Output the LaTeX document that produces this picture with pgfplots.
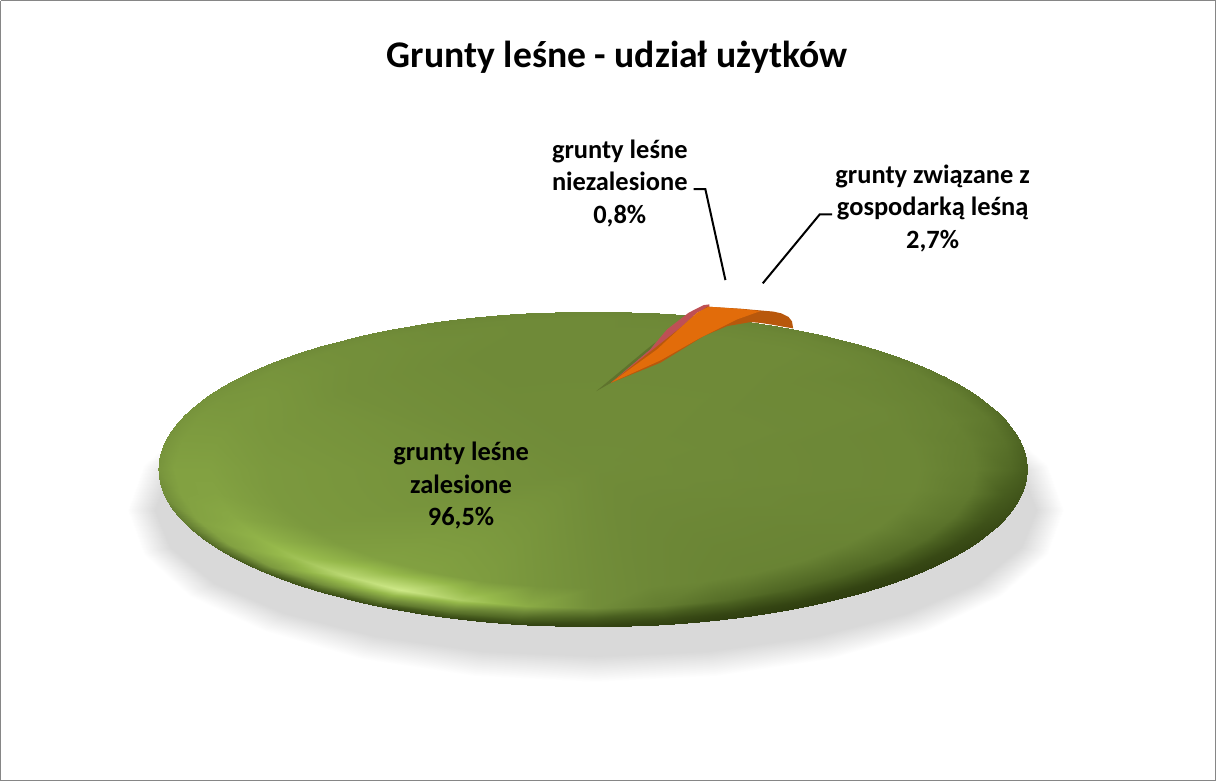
\documentclass[border=0pt]{standalone}
\usepackage{pgfplots}
\pgfplotsset{compat=1.18}
\usepackage{fontspec}
\setmainfont{Carlito}
\definecolor{frame}{RGB}{134,134,134}
\definecolor{orangeA}{RGB}{226,108,10}
\definecolor{orangeB}{RGB}{184,88,12}
\definecolor{rose}{RGB}{190,80,85}
\definecolor{darkgr}{RGB}{95,115,45}
\tikzset{lbl/.style={align=center,text=black,font=\fontsize{26.4}{32.5}\selectfont\bfseries}}
\pgfplotsset{
 colormap={piemap}{rgb255=(46,61,15) rgb255=(74,96,32) rgb255=(111,138,56) rgb255=(150,185,75) rgb255=(205,232,135)},
 colormap={shadowmap}{rgb255=(217,217,217) rgb255=(255,255,255)}
}
\begin{document}
\begin{tikzpicture}
\begin{axis}[
  width=1216pt,height=782pt,scale only axis,hide axis,
  xmin=0,xmax=1216,ymin=0,ymax=782,y dir=reverse,
  point meta min=0,point meta max=1
]
% frame
\addplot[frame,line width=1pt,forget plot] coordinates {(1,1.5) (1214.5,1.5) (1214.5,780.5) (1,780.5) (1,1.5)};
% shadow
\addplot[surf,shader=interp,colormap name=shadowmap,mesh/cols=3,mesh/rows=17,point meta=\thisrow{m},forget plot] table {
x y m
1000.3 424 1
976 437 0
595 470 0
1047 465.5 1
1020 472.2 0
595 470 0
1063 510 1
1035 510 0
595 470 0
1047 554.5 1
1020 547.8 0
595 470 0
1000.3 596 1
976 583 0
595 470 0
925.9 631.6 1
906.1 613.2 0
595 470 0
829 659 1
815 636.4 0
595 470 0
716.1 676.1 1
708.9 651 0
595 470 0
595 682 1
595 656 0
595 470 0
473.9 676.1 1
481.1 651 0
595 470 0
361 659 1
375 636.4 0
595 470 0
264.1 631.6 1
283.9 613.2 0
595 470 0
189.7 596 1
214 583 0
595 470 0
143 554.5 1
170 547.8 0
595 470 0
127 510 1
155 510 0
595 470 0
143 465.5 1
170 472.2 0
595 470 0
189.7 424 1
214 437 0
595 470 0
};
% pie top: rim r=1, .96, .88, .75, centre, every 10 degrees
\addplot[surf,shader=interp,colormap name=piemap,mesh/cols=5,mesh/rows=37,point meta=\thisrow{m},forget plot,
  execute at begin plot visualization={\pgfscope\clip (axis cs:592.5,469.5) ellipse [x radius=434,y radius=157.5];},
  execute at end plot visualization={\endpgfscope}] table {
x y m
1028 469.5 .22
1010.6 469.5 .30
975.7 469.5 .42
919.1 469.5 .48
592.5 469.5 .51
1021.4 496.9 .15
1004.2 495.8 .22
969.9 493.6 .40
914.1 490.1 .48
592.5 469.5 .51
1001.7 523.5 .10
985.4 521.4 .15
952.6 517 .37
899.4 510 .47
592.5 469.5 .51
969.7 548.5 .05
954.6 545.4 .10
924.4 539 .33
875.3 528.8 .47
592.5 469.5 .51
926.1 571.1 .02
912.8 567 .07
886 558.9 .30
842.7 545.7 .46
592.5 469.5 .51
872.4 590.5 0
861.3 585.7 .05
838.8 576 .28
802.4 560.3 .46
592.5 469.5 .51
810.3 606.3 0
801.6 600.9 .05
784.1 589.9 .28
755.8 572.1 .46
592.5 469.5 .51
741.4 618 0
735.5 612.1 .06
723.6 600.1 .33
704.2 580.9 .47
592.5 469.5 .51
668.1 625.1 .02
665.1 618.9 .10
659 606.4 .42
649.2 586.2 .49
592.5 469.5 .51
592.5 627.5 .03
592.5 621.2 .15
592.5 608.5 .52
592.5 588 .52
592.5 469.5 .51
516.9 625.1 .04
519.9 618.9 .25
526 606.4 .68
535.8 586.2 .56
592.5 469.5 .51
443.6 618 .05
449.5 612.1 .35
461.4 600.1 .85
480.8 580.9 .60
592.5 469.5 .51
374.7 606.3 .08
383.4 600.9 .45
400.9 589.9 1
429.2 572.1 .62
592.5 469.5 .51
312.6 590.5 .12
323.7 585.7 .52
346.2 576 .92
382.6 560.3 .62
592.5 469.5 .51
258.9 571.1 .18
272.2 567 .58
299 558.9 .80
342.3 545.7 .60
592.5 469.5 .51
215.3 548.5 .28
230.4 545.4 .62
260.6 539 .72
309.7 528.8 .58
592.5 469.5 .51
183.3 523.5 .40
199.6 521.4 .63
232.4 517 .66
285.6 510 .58
592.5 469.5 .51
163.6 496.9 .50
180.8 495.8 .62
215.1 493.6 .63
270.9 490.1 .58
592.5 469.5 .51
157 469.5 .55
174.4 469.5 .62
209.3 469.5 .62
265.9 469.5 .58
592.5 469.5 .51
163.6 442.1 .55
180.8 443.2 .60
215.1 445.4 .60
270.9 448.9 .57
592.5 469.5 .51
183.3 415.5 .55
199.6 417.6 .58
232.4 422 .58
285.6 429 .56
592.5 469.5 .51
215.3 390.5 .54
230.4 393.6 .56
260.6 400 .57
309.7 410.2 .55
592.5 469.5 .51
258.9 367.9 .52
272.2 372 .55
299 380.1 .55
342.3 393.3 .53
592.5 469.5 .51
312.6 348.5 .50
323.7 353.3 .53
346.2 363 .53
382.6 378.7 .52
592.5 469.5 .51
374.7 332.7 .50
383.4 338.1 .52
400.9 349.1 .52
429.2 366.9 .51
592.5 469.5 .51
443.6 321 .48
449.5 326.9 .50
461.4 338.9 .51
480.8 358.1 .50
592.5 469.5 .51
516.9 313.9 .48
519.9 320.1 .50
526 332.6 .50
535.8 352.8 .50
592.5 469.5 .51
592.5 311.5 .48
592.5 317.8 .50
592.5 330.5 .50
592.5 351 .50
592.5 469.5 .51
668.1 313.9 .47
665.1 320.1 .49
659 332.6 .50
649.2 352.8 .50
592.5 469.5 .51
741.4 321 .46
735.5 326.9 .48
723.6 338.9 .50
704.2 358.1 .50
592.5 469.5 .51
810.3 332.7 .45
801.6 338.1 .48
784.1 349.1 .50
755.8 366.9 .50
592.5 469.5 .51
872.4 348.5 .43
861.3 353.3 .47
838.8 363 .49
802.4 378.7 .49
592.5 469.5 .51
926.1 367.9 .40
912.8 372 .45
886 380.1 .47
842.7 393.3 .49
592.5 469.5 .51
969.7 390.5 .36
954.6 393.6 .43
924.4 400 .46
875.3 410.2 .49
592.5 469.5 .51
1001.7 415.5 .32
985.4 417.6 .40
952.6 422 .45
899.4 429 .48
592.5 469.5 .51
1021.4 442.1 .27
1004.2 443.2 .35
969.9 445.4 .43
914.1 448.9 .48
592.5 469.5 .51
1028 469.5 .22
1010.6 469.5 .30
975.7 469.5 .42
919.1 469.5 .48
592.5 469.5 .51
};
% wedges
\addplot[fill=darkgr,draw=none,forget plot] coordinates {(596,391.7) (610.7,383.3) (650,350) (655,343) (645,351) (615,376) (596,391.7)};
\addplot[fill=rose,draw=none,forget plot] coordinates {(610.7,383.3) (650,350) (666.7,330) (688.3,313.3) (703.3,305.7) (709,305) (709,308) (696.7,313.3) (678.3,330) (656.7,350) (610.7,383.3)};
\addplot[fill=orangeB,draw=none,forget plot] coordinates {(706.7,307.3) (740,309.3) (773,312.2) (781,314) (788,317.5) (791.5,322) (792.7,329) (781,327) (773,325.5) (760,323.5) (750,322.7) (726.7,326.7) (703.3,336.7) (660,363.3) (610.7,383.3) (706.7,307.3)};
\addplot[fill=orangeA,draw=none,forget plot] coordinates {(610.7,383.3) (656.7,350) (678.3,330) (696.7,313.3) (708.3,307.3) (740,309.6) (760,311.7) (736.7,320) (716.7,330) (700,338.3) (660,361) (610.7,383.3)};
% leader lines
\addplot[black,line width=2pt,forget plot] coordinates {(693.3,190) (705,190) (725,280.7)};
\addplot[black,line width=2pt,forget plot] coordinates {(831.7,215) (819.3,215) (762.3,284)};
% texts
\node[font=\fontsize{37.6}{44}\selectfont\bfseries,text=black] at (axis cs:617,58) {Grunty leśne - udział użytków};
\node[lbl] at (axis cs:619.5,184) {grunty leśne\\niezalesione\\0,8\%};
\node[lbl] at (axis cs:932,209) {grunty związane z\\gospodarką leśną\\2,7\%};
\node[lbl] at (axis cs:461,486) {grunty leśne\\zalesione\\96,5\%};
\end{axis}
\end{tikzpicture}
\end{document}
